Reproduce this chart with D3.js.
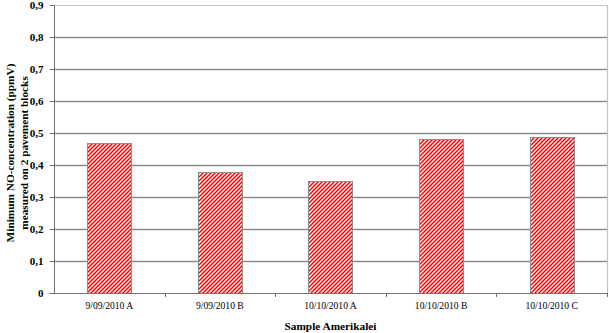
<!DOCTYPE html>
<html>
<head>
<meta charset="utf-8">
<script src="https://cdn.jsdelivr.net/npm/d3@7"></script>
<style>
  body { margin: 0; background: #fff; }
  svg { display: block; }
  text { font-family: "Liberation Serif", "Times New Roman", serif; fill: #000; }
</style>
</head>
<body>
<div id="chart"></div>
<script>
  // data
  var categories = ['9/09/2010 A', '9/09/2010 B', '10/10/2010 A', '10/10/2010 B', '10/10/2010 C'];
  var values = [0.468, 0.377, 0.35, 0.48, 0.486];
  var yTicks = [0, 0.1, 0.2, 0.3, 0.4, 0.5, 0.6, 0.7, 0.8, 0.9];

  (function() {
    'use strict';
    var width = 609, height = 333;
    var plotLeft = 54, plotRight = 607, plotTop = 5, plotBottom = 293;

    var svg = d3.select('#chart').append('svg')
      .attr('width', width)
      .attr('height', height);

    // red diagonal hatch
    var pat = svg.append('defs').append('pattern')
      .attr('id', 'hatch')
      .attr('patternUnits', 'userSpaceOnUse')
      .attr('width', 4)
      .attr('height', 4);
    pat.append('rect').attr('width', 4).attr('height', 4).attr('fill', '#fff');
    pat.append('path')
      .attr('d', 'M-1,1 L1,-1 M0,4 L4,0 M3,5 L5,3')
      .attr('stroke', '#ff0000')
      .attr('stroke-width', 1.5);

    var x = d3.scaleBand().domain(categories).range([plotLeft, plotRight]).padding(0);
    var y = d3.scaleLinear().domain([0, 0.9]).range([plotBottom, plotTop]);

    // grid lines
    svg.append('g').selectAll('line')
      .data(yTicks.filter(function(d) { return d > 0 && d < 0.9; }))
      .enter().append('line')
      .attr('x1', plotLeft).attr('x2', plotRight)
      .attr('y1', function(d) { return Math.round(y(d)) + 0.5; })
      .attr('y2', function(d) { return Math.round(y(d)) + 0.5; })
      .attr('stroke', '#8a8a8a')
      .attr('stroke-width', 1.3);

    // plot border top/right
    svg.append('path')
      .attr('d', 'M' + plotLeft + ',' + (plotTop + 0.5) + 'H' + (plotRight + 0.5) + 'V' + plotBottom)
      .attr('fill', 'none')
      .attr('stroke', '#c4c4c4')
      .attr('stroke-width', 1.2);

    // bars
    var barW = x.bandwidth() * 0.4;
    svg.append('g').selectAll('rect')
      .data(values)
      .enter().append('rect')
      .attr('x', function(d, i) { return Math.round(x(categories[i]) + (x.bandwidth() - barW) / 2) + 0.5; })
      .attr('y', function(d) { return Math.round(y(d)) + 0.5; })
      .attr('width', Math.round(barW))
      .attr('height', function(d) { return Math.round(y(0)) - Math.round(y(d)); })
      .attr('fill', 'url(#hatch)')
      .attr('stroke', '#8c8c8c')
      .attr('stroke-width', 1);

    // y axis
    var yAxis = d3.axisLeft(y)
      .tickValues(yTicks)
      .tickSize(5)
      .tickPadding(6)
      .tickFormat(function(d) { return d === 0 ? '0' : d3.format('.1f')(d).replace('.', ','); });
    var gy = svg.append('g')
      .attr('transform', 'translate(' + (plotLeft + 0.5) + ',0)')
      .call(yAxis);
    gy.select('.domain').attr('stroke', '#707070').attr('d', 'M0,' + plotTop + 'V' + plotBottom);
    gy.selectAll('.tick line').attr('stroke', '#707070');
    gy.selectAll('.tick text')
      .style('font-family', '"Liberation Serif", serif')
      .style('font-size', '11px')
      .style('font-weight', 'bold')
      .attr('fill', '#000');

    // x axis
    var xAxis = d3.axisBottom(x).tickSize(0).tickPadding(9);
    var gx = svg.append('g')
      .attr('transform', 'translate(0,' + (Math.round(plotBottom) + 0.5) + ')')
      .call(xAxis);
    gx.select('.domain').attr('stroke', '#707070').attr('d', 'M' + plotLeft + ',0H' + (plotRight + 1));
    gx.selectAll('.tick text')
      .style('font-family', '"Liberation Serif", serif')
      .style('font-size', '9.6px')
      .attr('fill', '#333');
    // boundary tick marks
    svg.append('g').selectAll('line')
      .data(categories)
      .enter().append('line')
      .attr('x1', function(d) { return Math.round(x(d) + x.step()) + 0.5; })
      .attr('x2', function(d) { return Math.round(x(d) + x.step()) + 0.5; })
      .attr('y1', plotBottom).attr('y2', plotBottom + 4)
      .attr('stroke', '#707070');

    // axis titles
    svg.append('text')
      .attr('x', (plotLeft + plotRight) / 2)
      .attr('y', 330)
      .attr('text-anchor', 'middle')
      .style('font-size', '11.3px')
      .style('font-weight', 'bold')
      .text('Sample Amerikalei');

    var yt = svg.append('text')
      .attr('transform', 'translate(0,153) rotate(-90)')
      .attr('text-anchor', 'middle')
      .style('font-size', '11.3px')
      .style('font-weight', 'bold');
    yt.append('tspan').attr('x', 0).attr('y', 14).text('Minimum NO-concentration (ppmV)');
    yt.append('tspan').attr('x', 0).attr('y', 28).text('measured on 2 pavement blocks');
  })();
</script>
</body>
</html>
